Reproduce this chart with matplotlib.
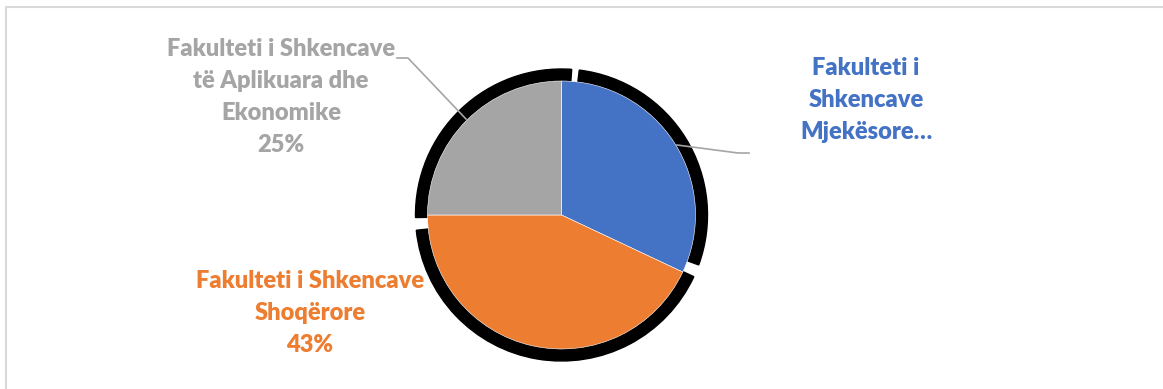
import matplotlib.pyplot as plt
from matplotlib.patches import Wedge

# data
labels = ["Fakulteti i\nShkencave\nMjekësore…",
          "Fakulteti i Shkencave\nShoqërore\n43%",
          "Fakulteti i Shkencave\ntë Aplikuara dhe\nEkonomike\n25%"]
values = [32, 43, 25]
colors = ["#4472C4", "#ED7D31", "#A5A5A5"]

W, H = 1163, 389
fig = plt.figure(figsize=(W / 100, H / 100), dpi=100)
ax = fig.add_axes([0, 0, 1, 1])

def Y(y):
    return H - y

cx, cy, r = 561.5, Y(215), 134

# frame (only top and left visible)
ax.plot([6, 6, W], [0, Y(7), Y(7)], color="#D9D9D9", lw=1.5)

# black ring behind the slices, broken at a few places
for a1, a2 in [(-20, 83), (86, 181), (186, 335)]:
    ax.add_patch(Wedge((cx, cy), r + 12, a1, a2, width=13, color="black", zorder=1))

ax.pie(values, colors=colors, startangle=90, counterclock=False,
       center=(cx, cy), radius=r, frame=True,
       wedgeprops=dict(edgecolor="white", linewidth=0.4, zorder=2))
ax.set_xlim(0, W)
ax.set_ylim(0, H)
ax.set_aspect("equal")
ax.axis("off")

fkw = dict(family="Lato", fontweight="heavy", fontsize=17, ha="center",
           va="center", linespacing=1.55)
ax.text(866, Y(100), labels[0], color=colors[0], **fkw)
ax.text(310, Y(313), labels[1], color=colors[1], **fkw)
ax.text(281, Y(97), labels[2], color=colors[2], **fkw)

# leader lines
ax.plot([397, 408, 466], [Y(58), Y(58), Y(119)], color="#A5A5A5", lw=1.2, zorder=3)
ax.plot([677, 738, 749], [Y(145), Y(153), Y(153)], color="#A5A5A5", lw=1.2, zorder=3)

fig.savefig("out.png", dpi=100)
